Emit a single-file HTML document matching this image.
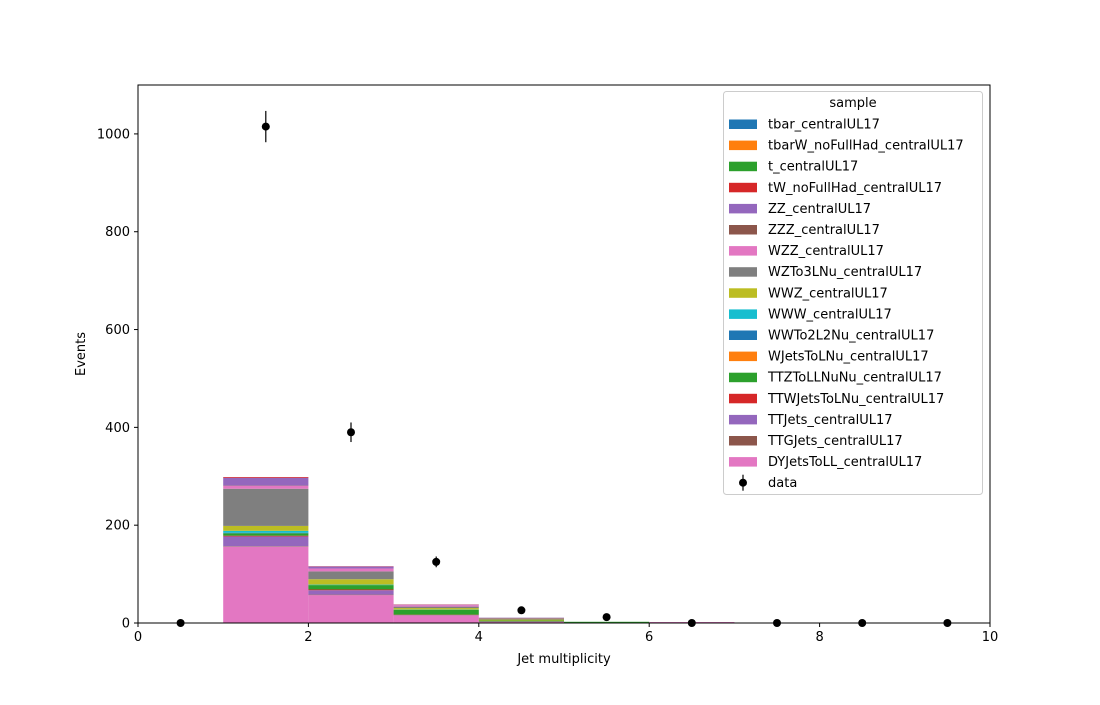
<!DOCTYPE html>
<html><head><meta charset="utf-8"><style>
body{margin:0;background:#fff;font-family:"Liberation Sans","DejaVu Sans",sans-serif;}
svg text{font-family:"DejaVu Sans","Liberation Sans",sans-serif;}
</style></head><body>
<svg id="chart" width="1100" height="700" viewBox="0 0 1100 700" xmlns="http://www.w3.org/2000/svg">
<rect width="1100" height="700" fill="#fff"/>
<g id="bars"></g>
<g id="data"></g>
<rect x="138" y="85" width="852" height="538" fill="none" stroke="#000" stroke-width="1"/>
<g id="axes" font-size="13" fill="#000"></g>
<text x="564" y="663" text-anchor="middle" font-size="13">Jet multiplicity</text>
<text x="0" y="0" transform="translate(85,354) rotate(-90)" text-anchor="middle" font-size="13">Events</text>
<g id="legend"></g>
</svg>
<script>
const binEdges=[0,1,2,3,4,5,6,7,8,9,10];
const sampleNames=["tbar_centralUL17","tbarW_noFullHad_centralUL17","t_centralUL17","tW_noFullHad_centralUL17","ZZ_centralUL17","ZZZ_centralUL17","WZZ_centralUL17","WZTo3LNu_centralUL17","WWZ_centralUL17","WWW_centralUL17","WWTo2L2Nu_centralUL17","WJetsToLNu_centralUL17","TTZToLLNuNu_centralUL17","TTWJetsToLNu_centralUL17","TTJets_centralUL17","TTGJets_centralUL17","DYJetsToLL_centralUL17"];
const sampleColors=["#1f77b4","#ff7f0e","#2ca02c","#d62728","#9467bd","#8c564b","#e377c2","#7f7f7f","#bcbd22","#17becf","#1f77b4","#ff7f0e","#2ca02c","#d62728","#9467bd","#8c564b","#e377c2"];
const tbar=[0,0,0,0,0,0,0,0,0,0];
const tbarW=[0,0,0,0,0,0,0,0,0,0];
const tSingle=[0,0,0,0,0,0,0,0,0,0];
const tW=[0,1.5,0.5,0.5,0,0,0,0,0,0];
const ZZ=[0,16,4,1,0.5,0,0,0,0,0];
const ZZZ=[0,0.5,0,0,1,0,0,0,0,0];
const WZZ=[0,6,6,3,0.5,0,0,0,0,0];
const WZTo3LNu=[0,76,16,3,2,0,0,0,0,0];
const WWZ=[0,10,11,3,2,0,0,0,0,0];
const WWW=[0,4,1,0.5,0,0,0,0,0,0];
const WWTo2L2Nu=[0,1,0,0,0,0,0,0,0,0];
const WJets=[0,0,0,0,0,0,0,0,0,0];
const TTZ=[0,5,9,10,2,2,0,0,0,0];
const TTW=[0,1.5,1.5,1,0,0,0,0,0,0];
const TTJets=[0,20,9,1,0,0,0,0,0,0];
const TTG=[0,1,1,0,0,0,0,0,0,0];
const DY=[0,156,57,15,3,0.5,2,0,0,0];
const dataX=[0.5,1.5,2.5,3.5,4.5,5.5,6.5,7.5,8.5,9.5];
const dataY=[0,1015,390,125,26,12,0,0,0,0];
const dataErr=[0,32,20,11,5,3.5,0,0,0,0];
const xTicks=[0,2,4,6,8,10];
const yTicks=[0,200,400,600,800,1000];
const series=[tbar,tbarW,tSingle,tW,ZZ,ZZZ,WZZ,WZTo3LNu,WWZ,WWW,WWTo2L2Nu,WJets,TTZ,TTW,TTJets,TTG,DY];

const NS="http://www.w3.org/2000/svg";
const X0=138,X1=990,Y0=623,Y1=85,xmin=0,xmax=10,ymin=0,ymax=1100;
const sx=v=>X0+(v-xmin)/(xmax-xmin)*(X1-X0);
const sy=v=>Y0-(v-ymin)/(ymax-ymin)*(Y0-Y1);
function mk(tag,attrs,parent){const e=document.createElementNS(NS,tag);for(const k in attrs)e.setAttribute(k,attrs[k]);parent.appendChild(e);return e;}

const gb=document.getElementById('bars');
for(let b=0;b<10;b++){
  let cum=0;
  for(let s=series.length-1;s>=0;s--){
    const v=series[s][b]; if(v<=0) continue;
    const r=mk('rect',{x:sx(binEdges[b]),y:sy(cum+v),width:sx(binEdges[b+1])-sx(binEdges[b]),height:sy(cum)-sy(cum+v),fill:sampleColors[s]},gb);
    
    
    cum+=v;
  }
}
const gd=document.getElementById('data');
for(let i=0;i<dataX.length;i++){
  if(dataErr[i]>0){
    const l=mk('line',{x1:sx(dataX[i]),x2:sx(dataX[i]),y1:sy(dataY[i]-dataErr[i]),y2:sy(dataY[i]+dataErr[i]),stroke:'#000','stroke-width':1.2},gd);
    
    
  }
  const c=mk('circle',{cx:sx(dataX[i]),cy:sy(dataY[i]),r:4,fill:'#000'},gd);
  
  
}
const ga=document.getElementById('axes');
xTicks.forEach(t=>{
  const l=mk('line',{x1:sx(t),x2:sx(t),y1:Y0,y2:Y0+4,stroke:'#000'},ga);
  
  
  const tx=mk('text',{x:sx(t),y:Y0+18,'text-anchor':'middle','font-size':13},ga);
  tx.textContent=t;
  
  
});
yTicks.forEach(t=>{
  const l=mk('line',{x1:X0-4,x2:X0,y1:sy(t),y2:sy(t),stroke:'#000'},ga);
  
  
  const tx=mk('text',{x:X0-8,y:sy(t)+4.5,'text-anchor':'end','font-size':13},ga);
  tx.textContent=t;
  
  
});
const gl=document.getElementById('legend');
mk('rect',{x:723.5,y:91.5,width:259,height:403,rx:3,fill:'#fff','fill-opacity':0.8,stroke:'#ccc'},gl);
const tt=mk('text',{x:853,y:107,'text-anchor':'middle','font-size':13},gl);
tt.textContent='sample';


sampleNames.forEach((n,i)=>{
  const y=124+i*21.1;
  const r=mk('rect',{x:729,y:y-4.5,width:28,height:9.5,fill:sampleColors[i]},gl);
  
  
  const t=mk('text',{x:768,y:y+4.5,'font-size':13},gl);
  t.textContent=n;
  
  
});
const yd=124+17*21.1;
const el=mk('line',{x1:743,x2:743,y1:yd-8,y2:yd+8,stroke:'#000','stroke-width':1.2},gl);


const ec=mk('circle',{cx:743,cy:yd,r:4,fill:'#000'},gl);


const dt=mk('text',{x:768,y:yd+4.5,'font-size':13},gl);
dt.textContent='data';


</script>
</body></html>
